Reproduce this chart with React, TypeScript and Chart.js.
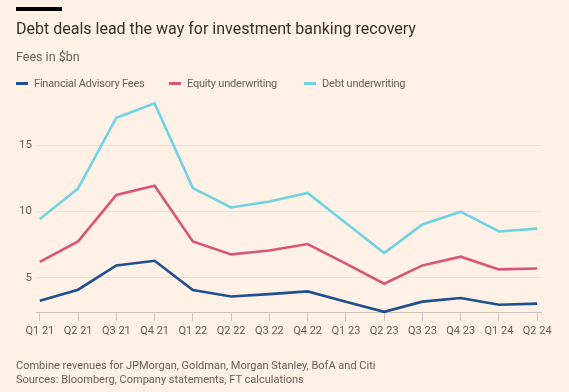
import React, { useEffect, useRef } from "react";
import { Chart, registerables } from "chart.js";

Chart.register(...registerables);

const quarters = ["Q1 21", "Q2 21", "Q3 21", "Q4 21", "Q1 22", "Q2 22", "Q3 22", "Q4 22", "Q1 23", "Q2 23", "Q3 23", "Q4 23", "Q1 24", "Q2 24"];
const advisoryFees = [3.27, 4.1, 5.93, 6.28, 4.08, 3.59, 3.77, 3.97, 3.2, 2.43, 3.2, 3.47, 2.97, 3.05];
const equityUnderwriting = [6.19, 7.74, 11.24, 11.94, 7.74, 6.76, 7.06, 7.54, 6.06, 4.55, 5.93, 6.59, 5.63, 5.7];
const debtUnderwriting = [9.43, 11.73, 17.06, 18.14, 11.76, 10.3, 10.75, 11.39, 9.12, 6.86, 9.02, 9.98, 8.49, 8.7];
const yTicks = [5, 10, 15];

const seriesNames = ["Financial Advisory Fees", "Equity underwriting", "Debt underwriting"];
const seriesColors = ["#1d4f91", "#d9567a", "#6fd3e4"];

const BG = "#fff1e5";
const FONT = "Roboto, 'Noto Sans', sans-serif";

export default function App() {
  const ref = useRef<HTMLCanvasElement | null>(null);

  useEffect(() => {
    document.body.style.margin = "0";
    document.body.style.background = BG;
    const canvas = ref.current;
    if (!canvas) return;
    const toPts = (arr: number[]) => arr.map((v, i) => ({ x: i, y: v }));
    const chart = new Chart(canvas, {
      type: "line",
      data: {
        datasets: [advisoryFees, equityUnderwriting, debtUnderwriting].map((d, i) => ({
          label: seriesNames[i],
          data: toPts(d),
          borderColor: seriesColors[i],
          backgroundColor: seriesColors[i],
          borderWidth: 2.6,
          pointRadius: 0,
          tension: 0,
          clip: false as any,
        })),
      },
      options: {
        responsive: false,
        animation: false,
        events: [],
        layout: { padding: { top: 99, bottom: 50, left: 0, right: 28 } },
        plugins: { legend: { display: false }, tooltip: { enabled: false }, title: { display: false } },
        scales: {
          x: {
            type: "linear",
            min: -0.1,
            max: quarters.length - 1 + 0.1,
            afterBuildTicks: (s: any) => {
              s.ticks = quarters.map((_, i) => ({ value: i }));
            },
            afterFit: (s: any) => {
              s.height = 30;
            },
            ticks: {
              autoSkip: false,
              maxRotation: 0,
              padding: 4,
              color: "#66605c",
              font: { family: FONT, size: 11 },
              callback: (v: any) => quarters[v as number] ?? "",
            },
            grid: { drawOnChartArea: false, drawTicks: true, tickLength: 9, color: "#cfc4ba", lineWidth: 1 },
            border: { display: true, color: "#cfc4ba", width: 1 },
          },
          y: {
            min: 2.42,
            max: 18.47,
            afterBuildTicks: (s: any) => {
              s.ticks = yTicks.map((v) => ({ value: v }));
            },
            afterFit: (s: any) => {
              s.width = 36;
            },
            ticks: {
              padding: 4,
              color: "#66605c",
              font: { family: FONT, size: 11.5 },
            },
            grid: { drawTicks: false, color: "#f0e2d6", lineWidth: 1 },
            border: { display: false },
          },
        },
      },
    });
    return () => chart.destroy();
  }, []);

  const legendItem = (i: number, left: number) => (
    <div key={i} style={{ position: "absolute", left, top: 76, height: 14, display: "flex", alignItems: "center" }}>
      <div style={{ width: 12, height: 3, background: seriesColors[i], marginRight: 6 }} />
      <span style={{ fontSize: 11, letterSpacing: "-0.2px", color: "#66605c", whiteSpace: "nowrap" }}>{seriesNames[i]}</span>
    </div>
  );

  return (
    <div style={{ position: "relative", width: 569, height: 392, background: BG, fontFamily: FONT, overflow: "hidden" }}>
      <canvas ref={ref} width={569} height={392} style={{ position: "absolute", left: 0, top: 0, width: 569, height: 392 }} />
      <div style={{ position: "absolute", left: 16, top: 7, width: 46, height: 4, background: "#000" }} />
      <div style={{ position: "absolute", left: 16, top: 17, fontSize: 16, lineHeight: "24px", color: "#33302e", whiteSpace: "nowrap" }}>
        Debt deals lead the way for investment banking recovery
      </div>
      <div style={{ position: "absolute", left: 16, top: 49, fontSize: 12.5, lineHeight: "16px", color: "#66605c", whiteSpace: "nowrap" }}>
        Fees in $bn
      </div>
      {legendItem(0, 16)}
      {legendItem(1, 169)}
      {legendItem(2, 304)}
      <div style={{ position: "absolute", left: 16, top: 359, fontSize: 11, lineHeight: "14px", color: "#66605c", whiteSpace: "nowrap" }}>
        <div>Combine revenues for JPMorgan, Goldman, Morgan Stanley, BofA and Citi</div>
        <div>Sources: Bloomberg, Company statements, FT calculations</div>
      </div>
    </div>
  );
}
